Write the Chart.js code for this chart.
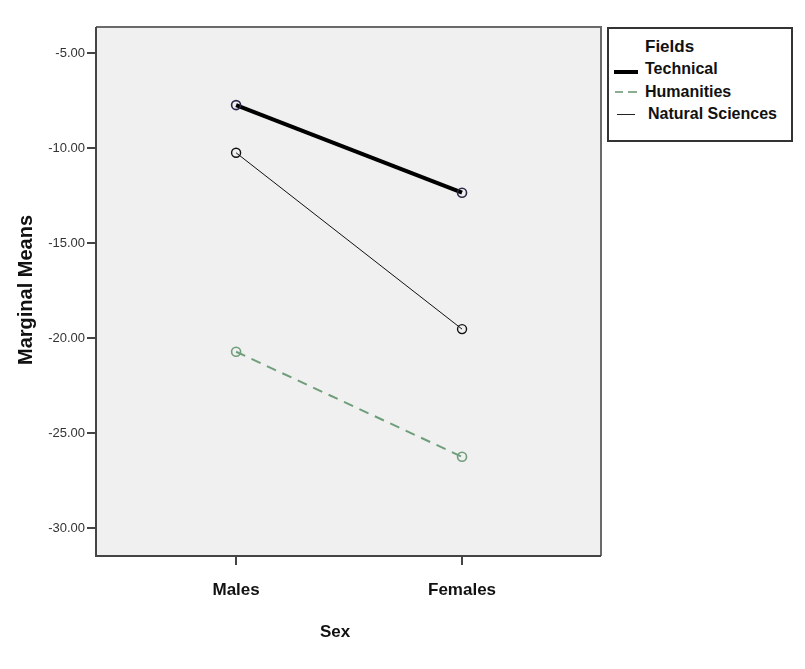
<!DOCTYPE html>
<html>
<head>
<meta charset="utf-8">
<script src="https://cdn.jsdelivr.net/npm/chart.js@4.4.0/dist/chart.umd.min.js"></script>
<style>
  html, body { margin: 0; padding: 0; background: #fff; }
  #wrap { position: relative; width: 805px; height: 669px; }
  #legend { position: absolute; left: 607px; top: 27px; width: 182px; height: 111px;
    border: 2px solid #333; background: #fff; font-family: "Liberation Sans", Arial, sans-serif;
    font-weight: bold; font-size: 16px; color: #111; }
  .item { position: absolute; left: 36px; line-height: 18px; white-space: nowrap; }
  .swatch { position: absolute; }
</style>
</head>
<body>
<div id="wrap">
  <canvas id="c" width="805" height="669"></canvas>
  <div id="legend">
    <div class="item" style="top:9px; font-size:17px;">Fields</div>
    <div class="swatch" style="left:5px; top:41px; width:24px; height:4px; background:#000;"></div>
    <div class="item" style="top:31px;">Technical</div>
    <div class="swatch" style="left:6px; top:62px; width:8px; height:2px; background:#8aae92;"></div>
    <div class="swatch" style="left:19px; top:62px; width:9px; height:2px; background:#8aae92;"></div>
    <div class="item" style="top:54px;">Humanities</div>
    <div class="swatch" style="left:8px; top:85px; width:18px; height:1px; background:#222;"></div>
    <div class="item" style="top:76px; left:39px;">Natural Sciences</div>
  </div>
</div>
<script>
const sexes = ["Males", "Females"];
const fields = ["Technical", "Humanities", "Natural Sciences"];
const technical = [-7.74, -12.35];
const humanities = [-20.72, -26.25];
const naturalSciences = [-10.25, -19.53];
const yTicks = [-5, -10, -15, -20, -25, -30];
const xTitle = "Sex";
const yTitle = "Marginal Means";

function pts(arr) { return arr.map((v, i) => ({ x: i, y: v })); }

const bgPlugin = {
  id: 'bg',
  beforeDraw(chart) {
    const { ctx, chartArea: a } = chart;
    ctx.save();
    ctx.fillStyle = '#f0f0f0';
    ctx.fillRect(a.left, a.top, a.right - a.left, a.bottom - a.top);
    ctx.restore();
  },
  afterDraw(chart) {
    const { ctx, chartArea: a } = chart;
    ctx.save();
    ctx.strokeStyle = '#6a6a6a';
    ctx.lineWidth = 2;
    ctx.beginPath();
    ctx.moveTo(a.left, a.top); ctx.lineTo(a.right, a.top); ctx.lineTo(a.right, a.bottom);
    ctx.stroke();
    ctx.strokeStyle = '#444';
    ctx.beginPath();
    ctx.moveTo(a.left, a.top); ctx.lineTo(a.left, a.bottom); ctx.lineTo(a.right, a.bottom);
    ctx.stroke();
    ctx.fillStyle = '#111';
    ctx.font = 'bold 17px "Liberation Sans", Arial, sans-serif';
    ctx.textAlign = 'center';
    ctx.textBaseline = 'middle';
    ctx.fillText(xTitle, 335, 632);
    ctx.translate(26, 290);
    ctx.rotate(-Math.PI / 2);
    ctx.font = 'bold 20px "Liberation Sans", Arial, sans-serif';
    ctx.fillText(yTitle, 0, 0);
    ctx.restore();
  }
};

new Chart(document.getElementById('c'), {
  type: 'line',
  data: {
    datasets: [
      { label: fields[0], data: pts(technical), borderColor: '#000', borderWidth: 4,
        pointRadius: 4.5, pointBorderColor: '#2a2a48', pointBorderWidth: 1.6, pointBackgroundColor: 'rgba(0,0,0,0)' },
      { label: fields[1], data: pts(humanities), borderColor: '#6e9e7a', borderWidth: 2, borderDash: [10, 7],
        pointRadius: 4.5, pointBorderColor: '#6e9e7a', pointBorderWidth: 1.6, pointBackgroundColor: 'rgba(0,0,0,0)' },
      { label: fields[2], data: pts(naturalSciences), borderColor: '#111', borderWidth: 1,
        pointRadius: 4.5, pointBorderColor: '#111', pointBorderWidth: 1.4, pointBackgroundColor: 'rgba(0,0,0,0)' }
    ]
  },
  options: {
    responsive: false,
    animation: false,
    layout: { padding: { top: 27, right: 204, bottom: 0, left: 0 } },
    plugins: { legend: { display: false }, tooltip: { enabled: false } },
    scales: {
      x: {
        type: 'linear', min: -0.62, max: 1.615,
        afterBuildTicks(s) { s.ticks = sexes.map((_, i) => ({ value: i })); },
        afterFit(s) { s.height = 113; },
        ticks: { callback: (v) => sexes[v], color: '#111', padding: 15,
          font: { family: '"Liberation Sans", Arial, sans-serif', size: 17, weight: 'bold' }, maxRotation: 0 },
        grid: { drawOnChartArea: false, drawTicks: true, tickLength: 9, color: '#444', lineWidth: 2 },
        border: { display: false }
      },
      y: {
        type: 'linear', min: -31.47, max: -3.63,
        afterBuildTicks(s) { s.ticks = yTicks.map(v => ({ value: v })); },
        afterFit(s) { s.width = 96; },
        ticks: { callback: (v) => Number(v).toFixed(2), color: '#333', padding: 2,
          font: { family: '"Liberation Sans", Arial, sans-serif', size: 13 } },
        grid: { drawOnChartArea: false, drawTicks: true, tickLength: 9, color: '#444', lineWidth: 2 },
        border: { display: false }
      }
    }
  },
  plugins: [bgPlugin]
});
</script>
</body>
</html>
